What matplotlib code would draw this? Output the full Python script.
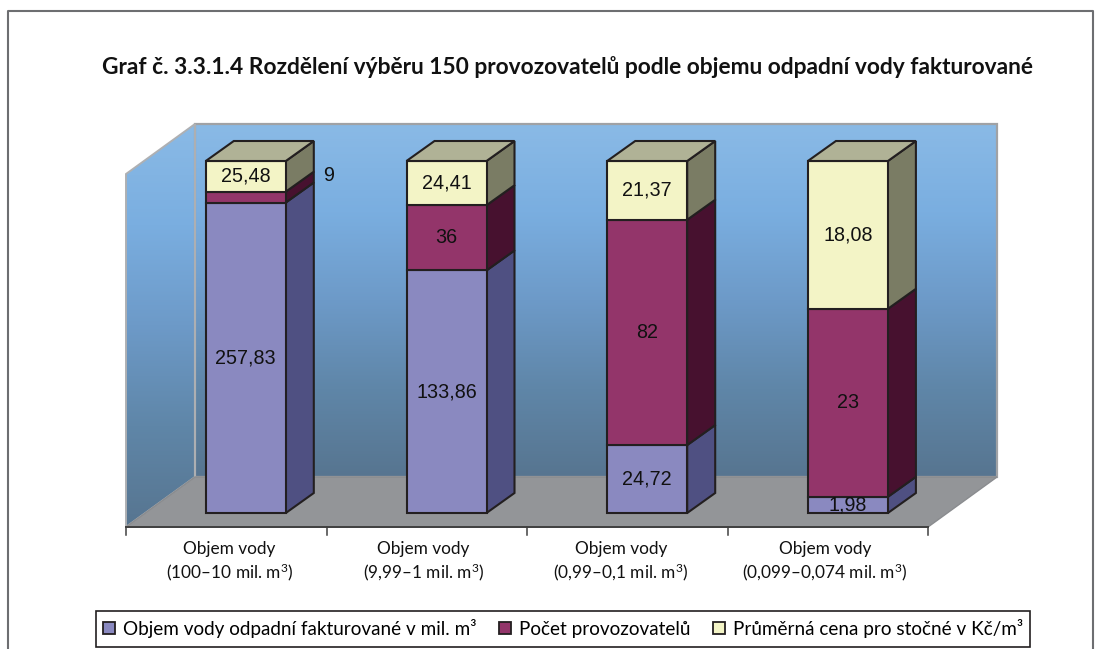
import numpy as np
import matplotlib
matplotlib.use("Agg")
import matplotlib.pyplot as plt
from matplotlib.patches import Patch, Rectangle, Polygon
from matplotlib.colors import LinearSegmentedColormap

plt.rcParams['font.family'] = ['Lato', 'DejaVu Sans']
plt.rcParams['mathtext.fontset'] = 'custom'
plt.rcParams['mathtext.rm'] = 'Lato'
plt.rcParams['mathtext.default'] = 'rm'

# data
groups = ['Objem vody\n(100–10 mil. m$^3$)', 'Objem vody\n(9,99–1 mil. m$^3$)',
          'Objem vody\n(0,99–0,1 mil. m$^3$)', 'Objem vody\n(0,099–0,074 mil. m$^3$)']
objem = [257.83, 133.86, 24.72, 1.98]
pocet = [9, 36, 82, 23]
cena = [25.48, 24.41, 21.37, 18.08]
series_names = ['Objem vody odpadní fakturované v mil. m³', 'Počet provozovatelů',
                'Průměrná cena pro stočné v Kč/m³']

front = ['#8a89c0', '#93356a', '#f3f4c6']
side = ['#4f5082', '#47112f', '#7a7c64']
top_col = '#b0b296'
edge = '#231f20'
title = 'Graf č. 3.3.1.4 Rozdělení výběru 150 provozovatelů podle objemu odpadní vody fakturované'

W, H = 1105, 649
fig = plt.figure(figsize=(W / 100, H / 100), dpi=100, facecolor='white')

# pixel box of the plot: 126..997 across, 124..527 down
ax = fig.add_axes([126 / W, 1 - 527 / H, (997 - 126) / W, (527 - 124) / H])
step = 200.7
first = 245.8
x0 = -(first - 126) / step
x1 = (997 - first) / step
pct_px = 352 / 100
y0 = -(527 - 513) / pct_px
y1 = (513 - 124) / pct_px
ax.set_xlim(x0, x1)
ax.set_ylim(y0, y1)
ax.axis('off')

# depth of the box and of the bars, in data units
wall_dx, wall_dy = 69 / step, 50 / pct_px
bar_dx, bar_dy = 28 / step, 20 / pct_px
bar_w = 80 / step

# walls with gradient
cm = LinearSegmentedColormap.from_list('wall', ['#8abae6', '#7aaee0', '#6d9ac8', '#5f86a8', '#577590'])
grad = np.linspace(0, 1, 256).reshape(-1, 1)
back_l = x0 + wall_dx
back_b = y0 + wall_dy
im = ax.imshow(grad, cmap=cm, extent=[back_l, x1, back_b, y1], aspect='auto', zorder=1)
ax.add_patch(Rectangle((back_l, back_b), x1 - back_l, y1 - back_b, fc='none', ec='#a0a2a5', lw=1.6, zorder=1.2, clip_on=False))
left_wall = Polygon([(x0, y0), (back_l, back_b), (back_l, y1), (x0, y1 - wall_dy)], closed=True,
                    fc='none', ec='#aeb0b3', lw=1.4, zorder=1.3, clip_on=False)
ax.add_patch(left_wall)
im2 = ax.imshow(grad, cmap=cm, extent=[x0, back_l, y0, y1], aspect='auto', zorder=1.1)
im2.set_clip_path(left_wall)
ax.set_xlim(x0, x1)
ax.set_ylim(y0, y1)

# floor
floor_x = x1 - wall_dx
ax.add_patch(Polygon([(x0, y0), (back_l, back_b), (x1, back_b), (floor_x, y0)], closed=True,
                     fc='#939598', ec='#8a8c8f', lw=1, zorder=1.5, clip_on=False))
ax.plot([x0, floor_x], [y0, y0], color='#404040', lw=1.4, zorder=1.6, clip_on=False)

# stacked to 100 %
vals = np.array([objem, pocet, cena], dtype=float)
shares = vals / vals.sum(axis=0) * 100
xpos = np.arange(len(groups))
bottom = np.zeros(len(groups))
for s in range(3):
    ax.bar(xpos, shares[s], bar_w, bottom=bottom, color=front[s], edgecolor=edge, linewidth=1.5, zorder=4, clip_on=False)
    for i in xpos:
        r = i + bar_w / 2
        b = bottom[i]
        t = b + shares[s][i]
        ax.add_patch(Polygon([(r, b), (r + bar_dx, b + bar_dy), (r + bar_dx, t + bar_dy), (r, t)], closed=True,
                             fc=side[s], ec=edge, lw=1.5, zorder=3, clip_on=False))
        lab = ('%.2f' % vals[s][i]).replace('.', ',') if s != 1 else '%d' % vals[s][i]
        if vals[s][i] == 9:
            ax.text(r + 43 / step, 96, lab, ha='center', va='center', fontsize=14.2, color='#111111',
                    family='Liberation Sans', zorder=6)
        else:
            ax.text(i, b + shares[s][i] / 2, lab, ha='center', va='center', fontsize=14.2, color='#111111',
                    family='Liberation Sans', zorder=6)
    bottom = bottom + shares[s]

# tops
for i in xpos:
    l, r = i - bar_w / 2, i + bar_w / 2
    ax.add_patch(Polygon([(l, 100), (l + bar_dx, 100 + bar_dy), (r + bar_dx, 100 + bar_dy), (r, 100)], closed=True,
                         fc=top_col, ec=edge, lw=1.5, zorder=5, clip_on=False))

# ticks and group labels, not evenly spaced in the original
for k in range(5):
    tx = x0 + k * (floor_x - x0) / 4
    ax.plot([tx, tx], [y0, y0 - 8 / pct_px], color='#404040', lw=1.1, zorder=1.6, clip_on=False)
label_px = [229.5, 423.5, 621, 825]
for lx, g in zip(label_px, groups):
    fig.text(lx / W, 1 - 562 / H, g, ha='center', va='center', fontsize=12.4,
             color='#111111', linespacing=1.3)

fig.text(568 / W, 1 - 67 / H, title, ha='center', va='center', fontsize=16.35, fontweight='bold', color='#111111')

# outer frame, open at the bottom
fig.add_artist(plt.Line2D([8 / W, 8 / W, 1093 / W, 1093 / W], [0, 1 - 11 / H, 1 - 11 / H, 0], color='#6d6e71', lw=1.5))

# legend box drawn apart so that its height can differ from the padding
fig.add_artist(Rectangle((96 / W, 1 - 647 / H), 934 / W, 36 / H, transform=fig.transFigure,
                         fc='white', ec='#231f20', lw=1.2))
handles = [Patch(fc=front[s], ec=edge, lw=1.3) for s in range(3)]
leg = fig.legend(handles, series_names, ncol=3, loc='center', bbox_to_anchor=(563 / W, 1 - 628 / H),
                 frameon=False, fontsize=13.6, handlelength=0.63, handleheight=0.63,
                 handletextpad=0.42, columnspacing=1.2, borderpad=0.3)

fig.savefig('out.png', dpi=100)
